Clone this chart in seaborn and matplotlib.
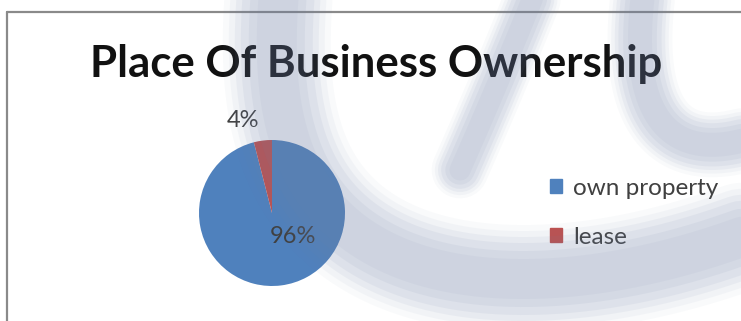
import numpy as np
from math import comb
import matplotlib
matplotlib.use("Agg")
import matplotlib.pyplot as plt
import seaborn as sns

# Chart data
categories = ["own property", "lease"]
shares = [96, 4]
colors = ["#4F81BD", "#C0504D"]
title = "Place Of Business Ownership"

sns.set_theme(style="white")
plt.rcParams["font.family"] = ["Lato", "DejaVu Sans"]

W, H, DPI = 741, 321, 100
fig = plt.figure(figsize=(W / DPI, H / DPI), dpi=DPI)
fig.patch.set_facecolor("white")


def pixel_axes(z):
    a = fig.add_axes([0, 0, 1, 1], zorder=z)
    a.set_xlim(0, W)
    a.set_ylim(H, 0)
    a.axis("off")
    a.patch.set_alpha(0)
    return a


# Chart frame (top and left edges)
bg = pixel_axes(0)
bg.plot([7, W], [12, 12], color="#8a8a8a", lw=1.6)
bg.plot([7, 7], [12, H], color="#8a8a8a", lw=1.6)

# Title
fig.text(376 / W, 1 - 64 / H, title, ha="center", va="center",
         fontsize=31.5, fontweight="bold", color="#111111", zorder=2)

# Pie
r = 73
cx, cy = 272, 213
ax = fig.add_axes([(cx - r) / W, 1 - (cy + r) / H, 2 * r / W, 2 * r / H], zorder=3)
wedges, _ = ax.pie(shares, colors=colors, startangle=90, counterclock=False,
                   radius=1.0, wedgeprops=dict(linewidth=0))
ax.set_xlim(-1, 1)
ax.set_ylim(-1, 1)
ax.set_aspect("equal")
ax.axis("off")

ax.text(0.29, -0.32, f"{shares[0]}%", ha="center", va="center",
        fontsize=17, color="#404040")
ax.text(-0.40, 1.27, f"{shares[1]}%", ha="center", va="center",
        fontsize=17, color="#404040")

# Legend
handles = [plt.Rectangle((0, 0), 1, 1, color=c) for c in colors]
fig.legend(handles, categories, loc="center left",
           bbox_to_anchor=(538 / W, 1 - 213 / H), frameon=False, borderpad=0,
           fontsize=17.5, labelcolor="#404040", handlelength=0.5,
           handleheight=0.5, handletextpad=0.45, labelspacing=1.15)


# Soft logo watermark laid over the whole slide
def bezier(pts, n=200):
    pts = np.asarray(pts, dtype=float)
    t = np.linspace(0, 1, n)[:, None]
    k = len(pts) - 1
    out = np.zeros((n, 2))
    for i, p in enumerate(pts):
        out += comb(k, i) * (t ** i) * ((1 - t) ** (k - i)) * p
    return out


wm = pixel_axes(10)
strokes = [
    ([(280, -20), (265, 140), (290, 245), (400, 310), (580, 300), (760, 230)], 80),
    ([(540, -20), (500, 80), (460, 170)], 42),
    ([(645, -20), (625, 110), (665, 170), (760, 135)], 48),
]
for pts, w in strokes:
    xy = bezier(pts)
    for scale, a in [(1.35, 0.04), (1.2, 0.05), (1.05, 0.07), (0.9, 0.08),
                     (0.7, 0.08), (0.5, 0.06)]:
        wm.plot(xy[:, 0], xy[:, 1], color="#6f80a6", lw=w * scale * 0.72,
                alpha=a, solid_capstyle="round")

fig.savefig("out.png", dpi=DPI, facecolor="white")
